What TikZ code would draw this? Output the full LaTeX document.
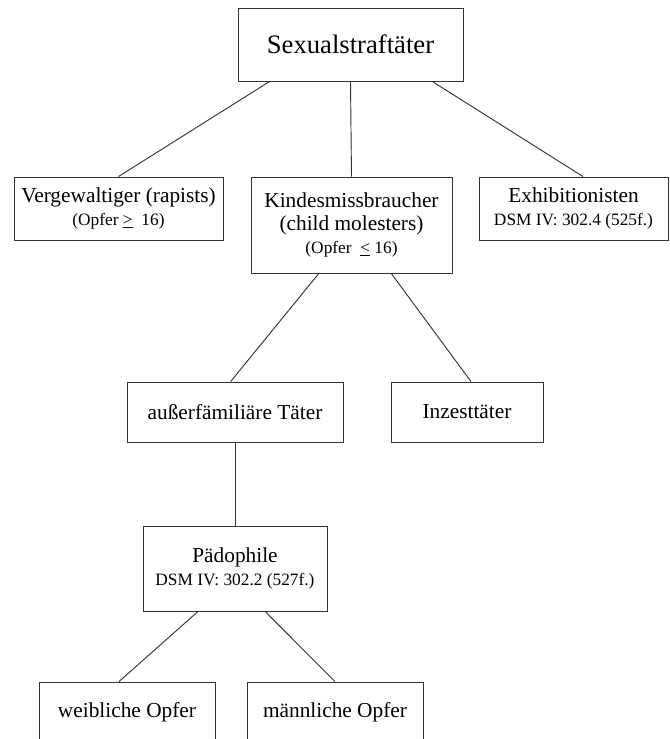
\documentclass[tikz,border=0pt]{standalone}
\usepackage{fontspec}
\setmainfont{Liberation Serif}
\usetikzlibrary{calc}

\newcommand\smalltext{\fontsize{13}{15}\selectfont}

\begin{document}
\begin{tikzpicture}[x=0.75pt,y=-0.75pt]

\tikzset{
    box/.style={
        draw=black!80, line width=0.7pt, rectangle,
        align=center, inner sep=0pt,
        font=\fontsize{16}{17}\selectfont
    },
    link/.style={
        draw=black!80, line width=0.7pt
    }
}

\useasboundingbox (0,0) rectangle (669,739);

% Root
\node[box, minimum width=168.75pt, minimum height=54.75pt, font=\fontsize{20}{24}\selectfont] (root) at (350.5, 44.5) {Sexualstraftäter};

% Second row
\node[box, minimum width=156.75pt, minimum height=47.25pt] (verg) at (118.5, 208.5) {Vergewaltiger (rapists)\\{\smalltext (Opfer \underline{>}~ 16)}};
\node[box, minimum width=150.75pt, minimum height=72pt] (kind) at (351.5, 225) {Kindesmissbraucher\\(child molesters)\\{\smalltext (Opfer~ \underline{<} 16)}};
\node[box, minimum width=141.75pt, minimum height=47.25pt] (exhib) at (573.5, 208.5) {Exhibitionisten\\{\smalltext DSM IV: 302.4 (525f.)}};

% Third row
\node[box, minimum width=162pt, minimum height=45pt] (extra) at (235, 412) {außerfämiliäre Täter};
\node[box, minimum width=114pt, minimum height=45pt] (inzest) at (467, 412) {Inzesttäter};

% Fourth row
\node[box, minimum width=138pt, minimum height=63.75pt] (paedo) at (235, 568.5) {Pädophile\\{\smalltext DSM IV: 302.2 (527f.)}};

% Bottom row
\node[box, minimum width=132pt, minimum height=45pt] (weibl) at (127, 712) {weibliche Opfer};
\node[box, minimum width=132pt, minimum height=45pt] (maennl) at (335, 712) {männliche Opfer};

% --- Links ---
\draw[link] ($(root.south west)!0.142!(root.south east)$) -- (verg.north);
\draw[link] (root.south) -- (kind.north);
\draw[link] ($(root.south west)!0.862!(root.south east)$) -- ($(exhib.north west)!0.55!(exhib.north east)$);

\draw[link] ($(kind.south west)!0.338!(kind.south east)$) -- ($(extra.north west)!0.48!(extra.north east)$);
\draw[link] ($(kind.south west)!0.697!(kind.south east)$) -- ($(inzest.north west)!0.526!(inzest.north east)$);

\draw[link] (extra.south) -- (paedo.north);

\draw[link] ($(paedo.south west)!0.3!(paedo.south east)$) -- ($(weibl.north west)!0.455!(weibl.north east)$);
\draw[link] ($(paedo.south west)!0.663!(paedo.south east)$) -- (maennl.north);

\end{tikzpicture}
\end{document}
